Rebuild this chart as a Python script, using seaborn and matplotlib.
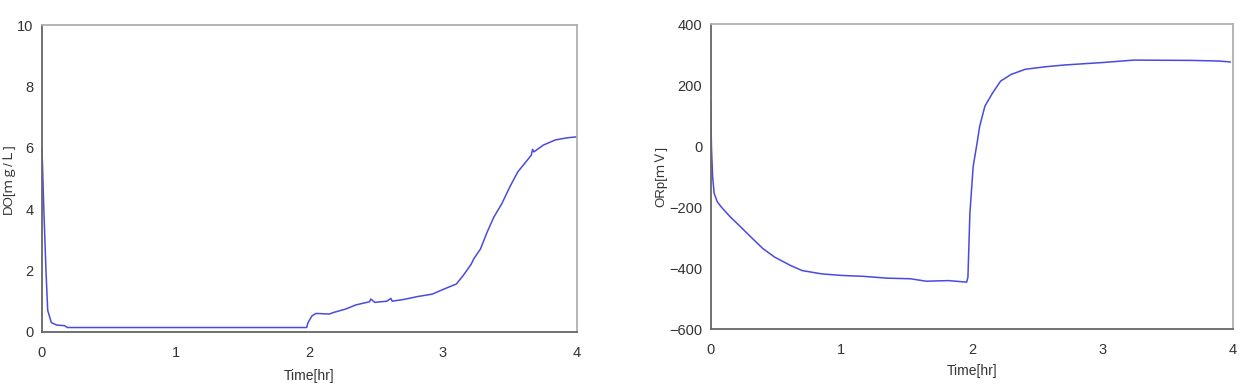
import matplotlib
matplotlib.use("Agg")
import matplotlib.pyplot as plt
import numpy as np
import pandas as pd
import seaborn as sns

# DO DATA (mg/L)
do_time = [0.0, 0.014, 0.03, 0.043, 0.07, 0.11, 0.17, 0.19, 1.0, 1.98, 1.99, 2.02, 2.05,
           2.15, 2.18, 2.27, 2.35, 2.45, 2.46, 2.49, 2.58, 2.61, 2.62, 2.7, 2.81, 2.92,
           3.01, 3.1, 3.15, 3.21, 3.23, 3.28, 3.33, 3.38, 3.44, 3.5, 3.56, 3.61, 3.66,
           3.67, 3.68, 3.75, 3.84, 3.93, 4.0]
do_value = [6.0, 4.0, 2.0, 0.7, 0.3, 0.22, 0.2, 0.14, 0.14, 0.14, 0.3, 0.52, 0.6,
            0.58, 0.63, 0.74, 0.88, 0.98, 1.07, 0.96, 1.0, 1.09, 1.0, 1.05, 1.15, 1.23,
            1.4, 1.56, 1.83, 2.2, 2.38, 2.7, 3.25, 3.74, 4.18, 4.73, 5.22, 5.49, 5.76,
            5.95, 5.87, 6.09, 6.26, 6.33, 6.36]

# ORP DATA (mV)
orp_time = [0.0, 0.006, 0.015, 0.027, 0.05, 0.08, 0.15, 0.23, 0.32, 0.4, 0.49, 0.61,
            0.7, 0.85, 1.0, 1.17, 1.35, 1.53, 1.65, 1.82, 1.96, 1.97, 1.985, 2.01, 2.04,
            2.06, 2.1, 2.16, 2.22, 2.3, 2.41, 2.56, 2.71, 3.0, 3.24, 3.68, 3.89, 3.98]
orp_value = [150, -1, -100, -155, -182, -199, -232, -265, -303, -336, -364, -391,
             -408, -419, -424, -427, -433, -435, -443, -441, -446, -430, -221, -67, 10,
             65, 131, 175, 213, 235, 252, 260, 266, 274, 282, 281, 279, 276]

do_df = pd.DataFrame({"time": do_time, "value": do_value})
orp_df = pd.DataFrame({"time": orp_time, "value": orp_value})

sns.set_style("white")
plt.rcParams["font.family"] = ["Liberation Sans", "Noto Sans CJK JP", "DejaVu Sans"]

fig = plt.figure(figsize=(12.45, 3.89), dpi=100)
ax1 = fig.add_axes([0.0337, 0.147, 0.4295, 0.788])
ax2 = fig.add_axes([0.5708, 0.154, 0.4196, 0.784])

line_color = "#4a4ae0"

sns.lineplot(data=do_df, x="time", y="value", ax=ax1, color=line_color, linewidth=1.1)
sns.lineplot(data=orp_df, x="time", y="value", ax=ax2, color=line_color, linewidth=1.1)

ax1.set_xlim(0, 4)
ax1.set_ylim(0, 10)
ax1.set_xticks([0, 1, 2, 3, 4])
ax1.set_yticks([0, 2, 4, 6, 8, 10])
ax2.set_xlim(0, 4)
ax2.set_ylim(-600, 400)
ax2.set_xticks([0, 1, 2, 3, 4])
ax2.set_yticks([-600, -400, -200, 0, 200, 400])

for ax in (ax1, ax2):
    ax.tick_params(direction="in", length=4, width=1, colors="#333333",
                   labelsize=10.5, pad=6)
    ax.tick_params(axis="x", pad=10)
    ax.spines["left"].set_color("#666666")
    ax.spines["bottom"].set_color("#666666")
    ax.spines["top"].set_color("#b0b0b0")
    ax.spines["right"].set_color("#b0b0b0")
    for s in ax.spines.values():
        s.set_linewidth(1.3)

ax1.set_xlabel("Time[hr]", fontsize=10, color="#333333", labelpad=7)
ax2.set_xlabel("Time[hr]", fontsize=10, color="#333333", labelpad=5)
ax1.set_ylabel("DO[ｍｇ/Ｌ]", fontsize=9.5, color="#333333", labelpad=2)
ax2.set_ylabel("ORp[ｍＶ]", fontsize=9.5, color="#333333", labelpad=1)

fig.savefig("out.png", dpi=100)
